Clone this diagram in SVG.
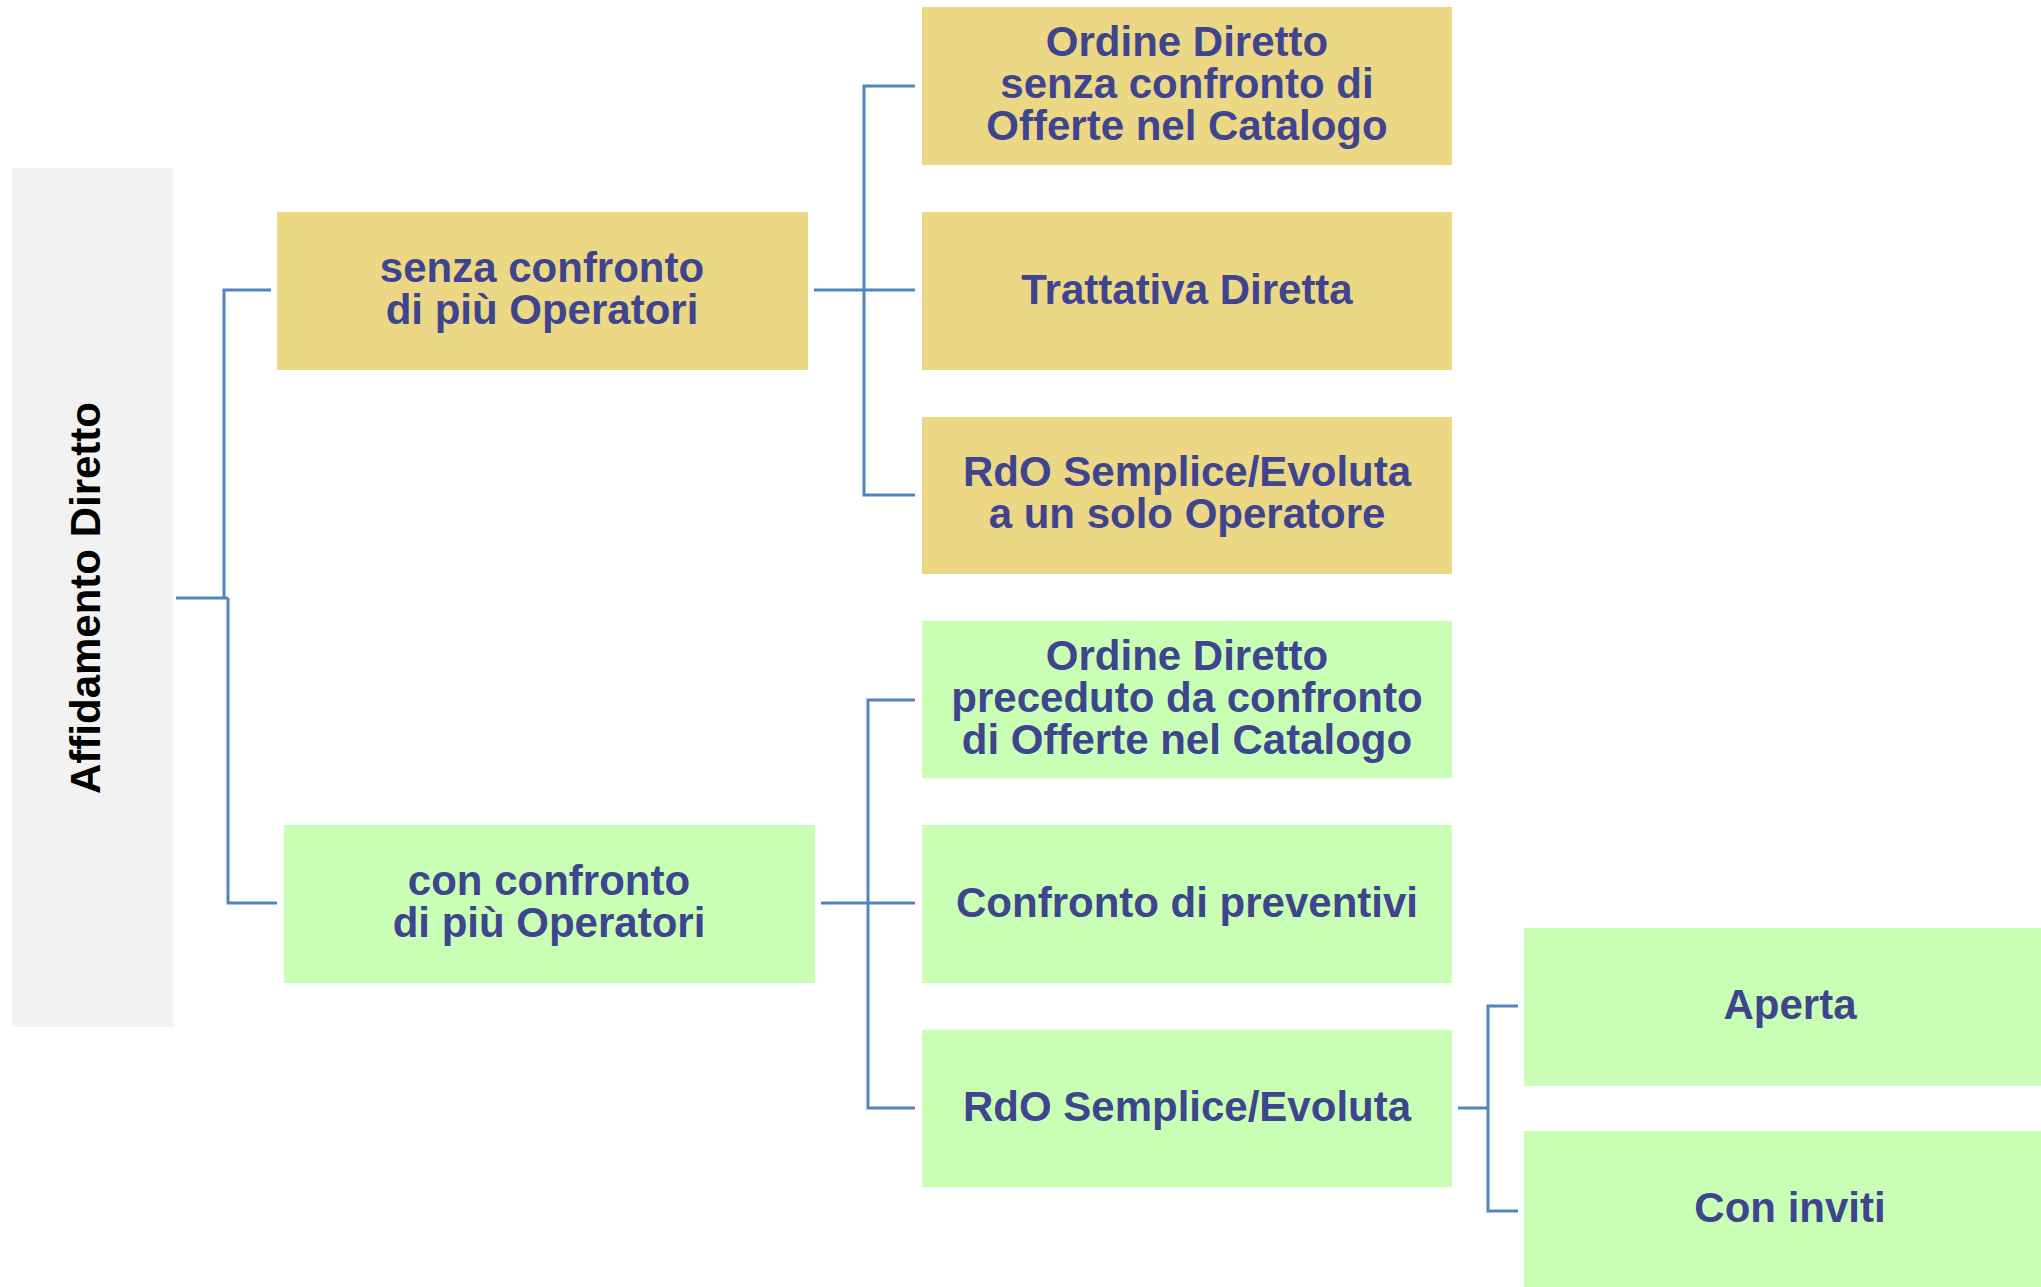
<svg xmlns="http://www.w3.org/2000/svg" width="2041" height="1287" viewBox="0 0 2041 1287">
<style>
.y{fill:#EBD784}
.g{fill:#C8FFB4}
.t{font-family:"Liberation Sans",Arial,sans-serif;font-weight:bold;font-size:42px;fill:#3F448E;text-anchor:middle}
.c{fill:none;stroke:#4F86C0;stroke-width:3}
</style>
<rect width="2041" height="1287" fill="#FFFFFF"/>
<g id="root">
<rect x="12" y="168" width="161" height="859" fill="#F2F2F2"/>
<text transform="translate(100,598) rotate(-90)" class="t" style="fill:#000000">Affidamento Diretto</text>
</g>
<g id="senza">
<rect class="y" x="277" y="212" width="531" height="158"/>
<text class="t" x="542" y="282">senza confronto</text>
<text class="t" x="542" y="324">di più Operatori</text>
</g>
<g id="con">
<rect class="g" x="284" y="825" width="531" height="158"/>
<text class="t" x="549" y="895">con confronto</text>
<text class="t" x="549" y="937">di più Operatori</text>
</g>
<g id="od1">
<rect class="y" x="922" y="7" width="530" height="158"/>
<text class="t" x="1187" y="56">Ordine Diretto</text>
<text class="t" x="1187" y="98">senza confronto di</text>
<text class="t" x="1187" y="140">Offerte nel Catalogo</text>
</g>
<g id="td">
<rect class="y" x="922" y="212" width="530" height="158"/>
<text class="t" x="1187" y="304">Trattativa Diretta</text>
</g>
<g id="rdo1">
<rect class="y" x="922" y="417" width="530" height="157"/>
<text class="t" x="1187" y="486">RdO Semplice/Evoluta</text>
<text class="t" x="1187" y="528">a un solo Operatore</text>
</g>
<g id="od2">
<rect class="g" x="922" y="621" width="530" height="157"/>
<text class="t" x="1187" y="670">Ordine Diretto</text>
<text class="t" x="1187" y="712">preceduto da confronto</text>
<text class="t" x="1187" y="754">di Offerte nel Catalogo</text>
</g>
<g id="cp">
<rect class="g" x="922" y="825" width="530" height="158"/>
<text class="t" x="1187" y="917">Confronto di preventivi</text>
</g>
<g id="rdo2">
<rect class="g" x="922" y="1030" width="530" height="157"/>
<text class="t" x="1187" y="1121">RdO Semplice/Evoluta</text>
</g>
<g id="aperta">
<rect class="g" x="1524" y="928" width="517" height="158"/>
<text class="t" x="1790" y="1019">Aperta</text>
</g>
<g id="inviti">
<rect class="g" x="1524" y="1131" width="517" height="156"/>
<text class="t" x="1790" y="1222">Con inviti</text>
</g>
<g id="connectors">
<path class="c" d="M176 598H228M271 290H224V598M228 598V903H277"/>
<path class="c" d="M814 290H915M915 86H864V495H915"/>
<path class="c" d="M821 903H915M915 700H868V1108H915"/>
<path class="c" d="M1458 1108H1488M1518 1006H1488V1211H1518"/>
</g>
</svg>
